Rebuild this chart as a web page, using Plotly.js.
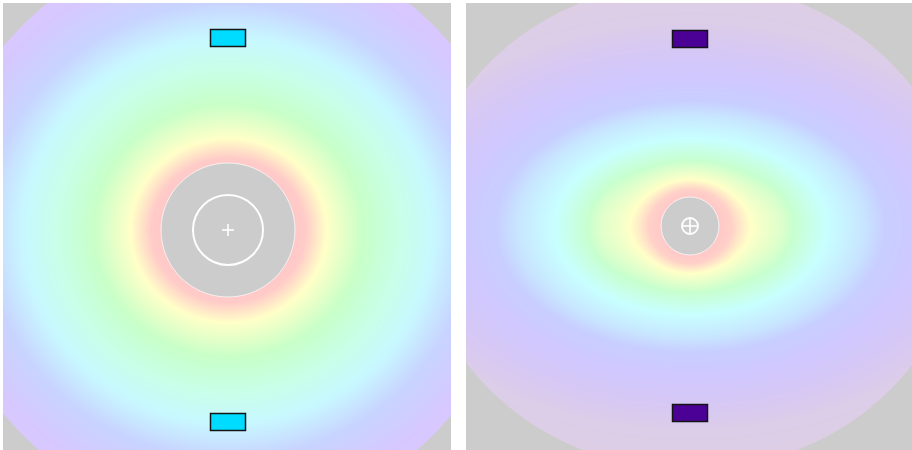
<!DOCTYPE html>
<html><head><meta charset="utf-8">
<script src="https://cdn.plot.ly/plotly-3.0.1.min.js"></script>
<style>html,body{margin:0;padding:0;background:#fff}</style></head><body>
<div id="chart" style="width:912px;height:450px"></div>
<script>
// ---- Left panel: radial colour profile (effective radius -> colour) ----
const leftStopR = [67, 77, 98, 135, 172, 205, 242, 285, 330];
const leftStopColor = ['rgb(255,200,200)','rgb(255,203,200)','rgb(255,255,200)','rgb(200,255,200)',
  'rgb(200,255,232)','rgb(200,248,255)','rgb(200,212,255)','rgb(214,200,255)','rgb(222,200,255)'];
const leftVerticalScale = 0.94;
const leftCutoffX = 290, leftCutoffY = 290;
const leftHole = 67;
const leftInnerRing = 35;
const leftCrossHalf = 6;
const leftMarkerY = [192, -192];
const leftMarkerColor = '#00dcff';

// ---- Right panel ----
const rightStopR = [29, 37, 47, 66, 88, 111, 126, 150, 180, 205, 260];
const rightStopColor = ['rgb(255,200,200)','rgb(255,208,200)','rgb(255,255,200)','rgb(200,255,206)',
  'rgb(200,255,255)','rgb(200,230,255)','rgb(200,206,255)','rgb(208,200,255)','rgb(215,200,244)',
  'rgb(220,205,232)','rgb(222,208,228)'];
const rightMaxHorizontalScale = 1.55;
const rightScaleGrowth = 60;
const rightCutoffX = 270, rightCutoffY = 244;
const rightHole = 29;
const rightSymbolR = 8;
const rightMarkerY = [187, -187];
const rightMarkerColor = '#4b0096';

const markerW = 35, markerH = 17;
const bgGray = '#cccccc';

const grid = [];
for (let v = -230; v <= 230; v += 3) grid.push(v);

function buildLeftZ() {
  return grid.map(y => grid.map(x => Math.max(leftStopR[0], Math.hypot(x, y / leftVerticalScale))));
}
function buildRightZ() {
  return grid.map(y => grid.map(x => {
    const r = Math.hypot(x, y);
    const s = 1 + (rightMaxHorizontalScale - 1) * Math.min(1, Math.max(0, (r - rightHole) / rightScaleGrowth));
    return Math.max(rightStopR[0], Math.hypot(x / s, y));
  }));
}
function buildScale(rs, cs) {
  const a = rs[0], b = rs[rs.length - 1];
  return rs.map((r, i) => [(r - a) / (b - a), cs[i]]);
}
function framePath(rx, ry) {
  let p = 'M-400,-400 L400,-400 L400,400 L-400,400 Z ';
  const n = 180;
  for (let i = 0; i <= n; i++) {
    const t = 2 * Math.PI * i / n;
    p += (i === 0 ? 'M' : 'L') + (rx * Math.cos(t)).toFixed(2) + ',' + (ry * Math.sin(t)).toFixed(2) + ' ';
  }
  return p + 'Z';
}

const traces = [
  {type:'heatmap', x:grid, y:grid, z:buildLeftZ(),
   zmin:leftStopR[0], zmax:leftStopR[leftStopR.length-1], colorscale:buildScale(leftStopR, leftStopColor),
   zsmooth:'best', showscale:false, hoverinfo:'skip', xaxis:'x', yaxis:'y'},
  {type:'heatmap', x:grid, y:grid, z:buildRightZ(),
   zmin:rightStopR[0], zmax:rightStopR[rightStopR.length-1], colorscale:buildScale(rightStopR, rightStopColor),
   zsmooth:'best', showscale:false, hoverinfo:'skip', xaxis:'x2', yaxis:'y2'}
];

const white = {color:'#ffffff', width:1.6};
const shapes = [];
shapes.push({type:'path', xref:'x', yref:'y', path:framePath(leftCutoffX, leftCutoffY), fillrule:'evenodd',
  fillcolor:bgGray, line:{width:0}});
shapes.push({type:'path', xref:'x2', yref:'y2', path:framePath(rightCutoffX, rightCutoffY), fillrule:'evenodd',
  fillcolor:bgGray, line:{width:0}});
shapes.push({type:'circle', xref:'x', yref:'y', x0:-leftHole, x1:leftHole, y0:-leftHole, y1:leftHole,
  fillcolor:bgGray, line:{color:'rgba(255,255,255,0.7)', width:1}});
shapes.push({type:'circle', xref:'x', yref:'y', x0:-leftInnerRing, x1:leftInnerRing, y0:-leftInnerRing, y1:leftInnerRing,
  line:{color:'#ffffff', width:2}});
shapes.push({type:'line', xref:'x', yref:'y', x0:-leftCrossHalf, x1:leftCrossHalf, y0:0, y1:0, line:white});
shapes.push({type:'line', xref:'x', yref:'y', x0:0, x1:0, y0:-leftCrossHalf, y1:leftCrossHalf, line:white});
shapes.push({type:'circle', xref:'x2', yref:'y2', x0:-rightHole, x1:rightHole, y0:-rightHole, y1:rightHole,
  fillcolor:bgGray, line:{color:'rgba(255,255,255,0.7)', width:1}});
shapes.push({type:'circle', xref:'x2', yref:'y2', x0:-rightSymbolR, x1:rightSymbolR, y0:-rightSymbolR, y1:rightSymbolR,
  line:{color:'#ffffff', width:1.8}});
shapes.push({type:'line', xref:'x2', yref:'y2', x0:-rightSymbolR, x1:rightSymbolR, y0:0, y1:0, line:white});
shapes.push({type:'line', xref:'x2', yref:'y2', x0:0, x1:0, y0:-rightSymbolR, y1:rightSymbolR, line:white});
leftMarkerY.forEach(y => shapes.push({type:'rect', xref:'x', yref:'y', x0:-markerW/2, x1:markerW/2,
  y0:y-markerH/2, y1:y+markerH/2, fillcolor:leftMarkerColor, line:{color:'#141414', width:1.5}}));
rightMarkerY.forEach(y => shapes.push({type:'rect', xref:'x2', yref:'y2', x0:-markerW/2, x1:markerW/2,
  y0:y-markerH/2, y1:y+markerH/2, fillcolor:rightMarkerColor, line:{color:'#141414', width:1.5}}));

const ax = {visible:false, showgrid:false, zeroline:false, fixedrange:true};
const layout = {
  width:912, height:450, margin:{l:3, r:0, t:3, b:0},
  paper_bgcolor:'#ffffff', plot_bgcolor:bgGray, showlegend:false,
  xaxis:Object.assign({domain:[0, 448/909], range:[-225, 223]}, ax),
  yaxis:Object.assign({domain:[0,1], range:[-220, 227], anchor:'x'}, ax),
  xaxis2:Object.assign({domain:[463/909, 1], range:[-224, 222], anchor:'y2'}, ax),
  yaxis2:Object.assign({domain:[0,1], range:[-224, 223], anchor:'x2'}, ax),
  shapes:shapes
};
Plotly.newPlot('chart', traces, layout, {staticPlot:true, displayModeBar:false});
</script>
</body></html>
